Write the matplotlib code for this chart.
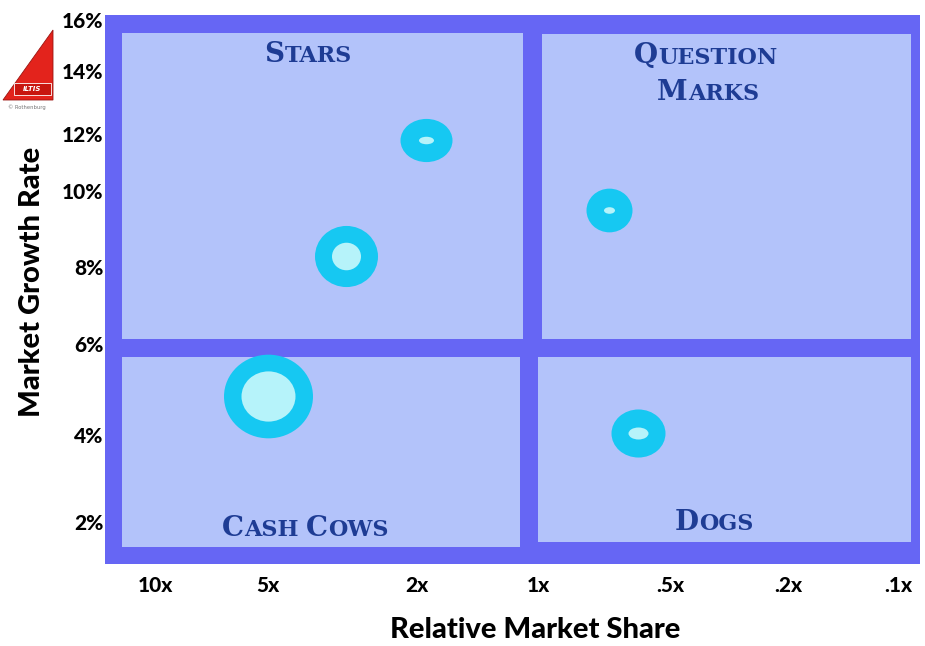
#!/usr/bin/env python3
"""BCG growth-share matrix (Stars / Question Marks / Cash Cows / Dogs)."""

import numpy as np
import matplotlib
matplotlib.use('Agg')
import matplotlib.pyplot as plt
from matplotlib.patches import Rectangle, Polygon
from matplotlib.path import Path
from matplotlib.transforms import Affine2D
from matplotlib.offsetbox import TextArea, HPacker, AnnotationBbox
from matplotlib import font_manager

# ── Data ──────────────────────────────────────────────────────────────────
share_ticks = [10, 5, 2, 1, 0.5, 0.2, 0.1]
share_labels = ['10x', '5x', '2x', '1x', '.5x', '.2x', '.1x']
growth_ticks = [2, 4, 6, 8, 10, 12, 14, 16]
growth_labels = ['2%', '4%', '6%', '8%', '10%', '12%', '14%', '16%']

# products: relative market share, market growth (%), bubble size (sales)
product_share = [1.9, 3.1, 5.0, 0.69, 0.59]
product_growth = [11.8, 8.3, 4.85, 9.5, 4.05]
product_sales = [52, 63, 89, 46, 54]

quadrant_names = ['Stars', 'Question\nMarks', 'Cash Cows', 'Dogs']

# ── Style ─────────────────────────────────────────────────────────────────
FRAME = '#6666F4'
PANEL = '#B3C3FA'
BUBBLE = '#16C8F2'
CORE = '#B6F3FA'
LABEL = '#1E3C94'
W, H = 925, 646

# the printed axis is hand-spaced: tick label centres in figure pixels
X_COLS = [155, 268, 417, 538, 670, 788, 898]
Y_ROWS = [522, 435, 344, 267, 191, 134, 71, 20]

# per-bubble shape of the ring and of the light core
OUTER_ASPECT = [0.83, 0.97, 0.94, 0.95, 0.89]
CORE_DIAM = [15, 29, 54, 11, 20]
CORE_ASPECT = [0.5, 0.95, 0.93, 0.6, 0.6]

_black = [f for f in font_manager.fontManager.ttflist
          if f.name == 'Lato' and f.weight >= 800 and f.style == 'normal']
HEAVY = dict(family='Lato', fontweight='black') if _black else \
    dict(family='DejaVu Sans', fontweight='bold')


def _interp_ext(x, xp, fp):
    """np.interp with linear extrapolation past both ends."""
    x = np.asarray(x, dtype=float)
    xp = np.asarray(xp, dtype=float)
    fp = np.asarray(fp, dtype=float)
    y = np.interp(x, xp, fp)
    lo_slope = (fp[1] - fp[0]) / (xp[1] - xp[0])
    hi_slope = (fp[-1] - fp[-2]) / (xp[-1] - xp[-2])
    y = np.where(x < xp[0], fp[0] + (x - xp[0]) * lo_slope, y)
    y = np.where(x > xp[-1], fp[-1] + (x - xp[-1]) * hi_slope, y)
    return y


X_LOG = -np.log10(share_ticks)


def x_fwd(v):
    with np.errstate(all='ignore'):
        v = np.clip(np.asarray(v, dtype=float), 1e-9, None)
        return -_interp_ext(-np.log10(v), X_LOG, X_COLS)


def x_inv(u):
    return 10 ** (-_interp_ext(-np.asarray(u, dtype=float), X_COLS, X_LOG))


def y_fwd(v):
    return -_interp_ext(v, growth_ticks, Y_ROWS)


def y_inv(u):
    return _interp_ext(-np.asarray(u, dtype=float), Y_ROWS[::-1],
                       growth_ticks[::-1])


def fig_rect(x0, y0, x1, y1):
    return (x0 / W, 1 - y1 / H, (x1 - x0) / W, (y1 - y0) / H)


def ellipse_marker(aspect):
    return Path.unit_circle().transformed(Affine2D().scale(1.0, aspect))


def small_caps(ax, text, x_px, y_px, big=20, small=16):
    """Centre a small-caps label at a figure pixel position."""
    props = dict(fontweight='bold', family='DejaVu Serif', color=LABEL)
    boxes = []
    for i, word in enumerate(text.split(' ')):
        if i:
            boxes.append(TextArea(' ', textprops=dict(fontsize=small, **props)))
        boxes.append(TextArea(word[0].upper(),
                              textprops=dict(fontsize=big, **props)))
        if len(word) > 1:
            boxes.append(TextArea(word[1:].upper(),
                                  textprops=dict(fontsize=small, **props)))
    pack = HPacker(children=boxes, align='baseline', pad=0, sep=0)
    ab = AnnotationBbox(pack, (x_px / W, 1 - y_px / H),
                        xycoords='figure fraction', frameon=False,
                        box_alignment=(0.5, 0.5), pad=0, annotation_clip=False)
    ax.add_artist(ab)


fig = plt.figure(figsize=(9.25, 6.46), dpi=100)
fig.patch.set_facecolor('white')

# ── Matrix frame ──────────────────────────────────────────────────────────
ax = fig.add_axes(fig_rect(105, 15, 920, 564))
ax.set_facecolor(FRAME)
for sp in ax.spines.values():
    sp.set_visible(False)

ax.set_xscale('function', functions=(x_fwd, x_inv))
ax.set_yscale('function', functions=(y_fwd, y_inv))
ax.set_xlim(float(x_inv(-105)), float(x_inv(-920)))
ax.set_ylim(float(y_inv(-564)), float(y_inv(-15)))

# four quadrant panels
for x0, y0, x1, y1 in [(122, 33, 523, 339), (542, 34, 911, 339),
                       (122, 357, 520, 547), (538, 357, 911, 542)]:
    ax.add_patch(Rectangle(fig_rect(x0, y0, x1, y1)[:2],
                           (x1 - x0) / W, (y1 - y0) / H,
                           transform=fig.transFigure, facecolor=PANEL,
                           edgecolor='none', zorder=1, clip_on=False))

# ── Bubbles ───────────────────────────────────────────────────────────────
px2pt = 72 / fig.dpi
for i in range(len(product_share)):
    ax.scatter([product_share[i]], [product_growth[i]],
               s=(product_sales[i] * px2pt) ** 2,
               marker=ellipse_marker(OUTER_ASPECT[i]), color=BUBBLE,
               linewidths=0, zorder=3)
    ax.scatter([product_share[i]], [product_growth[i]],
               s=(CORE_DIAM[i] * px2pt) ** 2,
               marker=ellipse_marker(CORE_ASPECT[i]), color=CORE,
               linewidths=0, zorder=4)

# ── Quadrant labels ───────────────────────────────────────────────────────
small_caps(ax, quadrant_names[0], 308, 54)
q1, q2 = quadrant_names[1].split('\n')
small_caps(ax, q1, 706, 56)
small_caps(ax, q2, 708, 93)
small_caps(ax, quadrant_names[2], 305, 528)
small_caps(ax, quadrant_names[3], 714, 522)

# ── Axes ticks & labels ───────────────────────────────────────────────────
ax.set_xticks(share_ticks, share_labels, fontsize=15, **HEAVY)
ax.set_yticks(growth_ticks, growth_labels, fontsize=15, **HEAVY)
ax.minorticks_off()
ax.tick_params(length=0)
ax.tick_params(axis='x', pad=9)
ax.tick_params(axis='y', pad=1)

fig.text(535 / W, 1 - 630 / H, 'Relative Market Share', ha='center',
         va='center', fontsize=21, **HEAVY)
fig.text(32 / W, 1 - 282 / H, 'Market Growth Rate', ha='center',
         va='center', rotation=90, fontsize=21, **HEAVY)

# ── Logo (top left) ───────────────────────────────────────────────────────
def px(x, y):
    return (x / W, 1 - y / H)


fig.add_artist(Polygon([px(53, 30), px(3, 100), px(53, 100)], closed=True,
                       transform=fig.transFigure, facecolor='#E3231C',
                       edgecolor='#9A1410', linewidth=0.6))
fig.add_artist(Rectangle(px(14, 95), 37 / W, 12 / H,
                         transform=fig.transFigure, facecolor='#C8160F',
                         edgecolor='white', linewidth=0.6))
fig.text(32.5 / W, 1 - 89 / H, 'ILTIS', ha='center', va='center',
         fontsize=5, fontweight='bold', style='italic', color='white')
fig.text(27 / W, 1 - 107 / H, '\u00a9 Rothenburg', ha='center', va='center',
         fontsize=3.8, color='#777777')

fig.savefig('out.png', dpi=100)
